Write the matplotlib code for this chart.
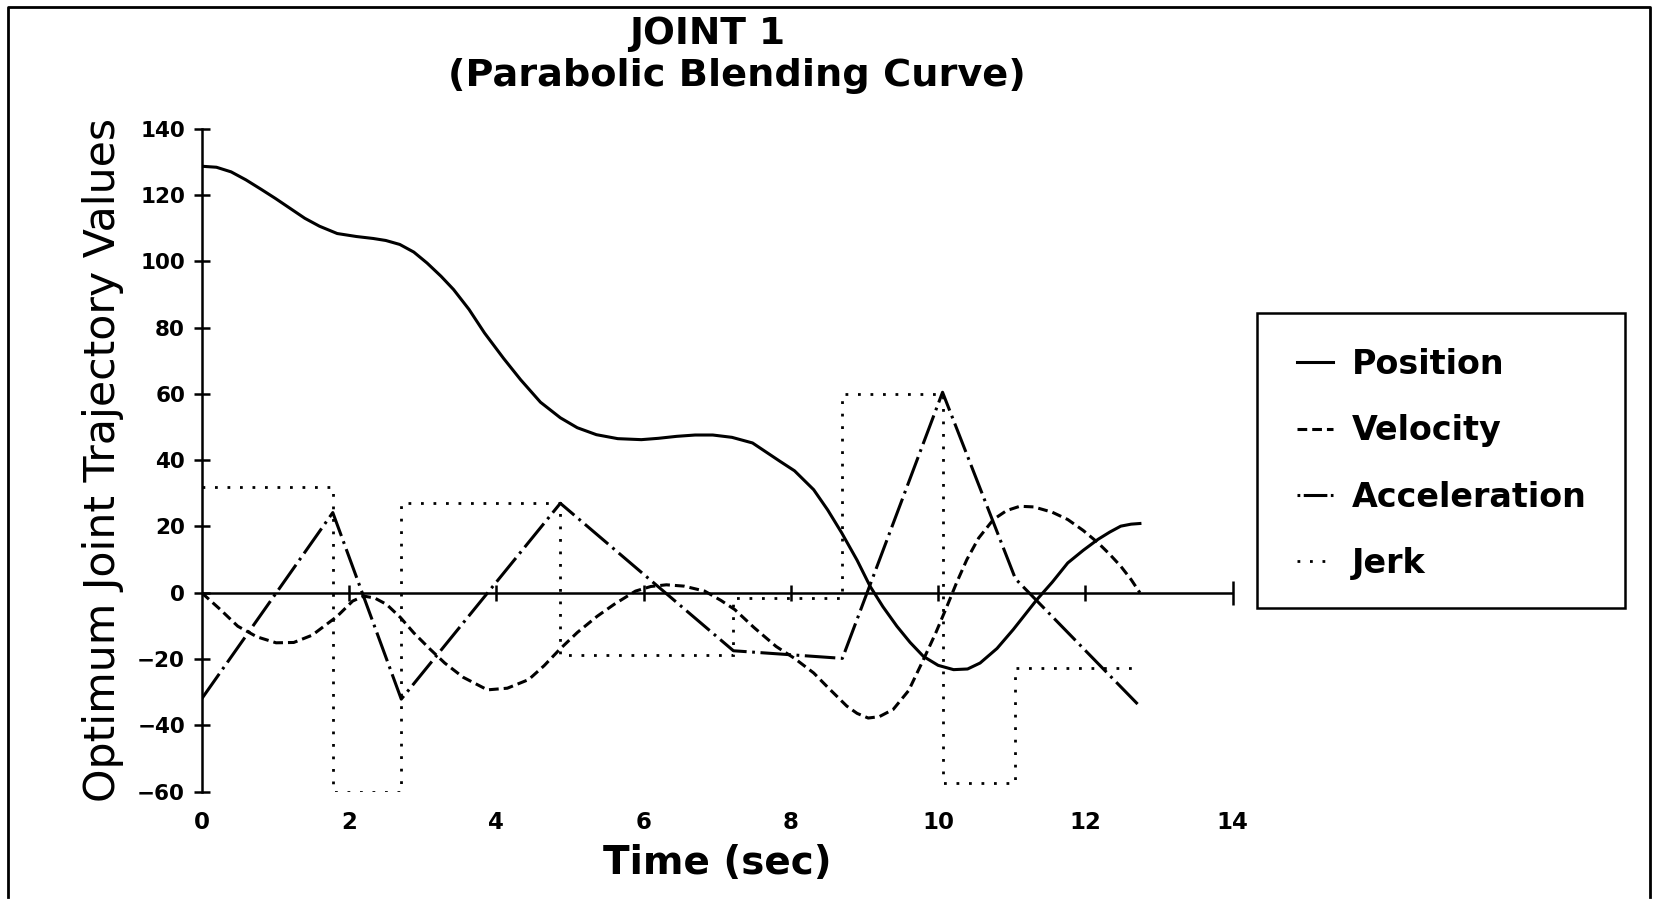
import matplotlib.pyplot as plt
from matplotlib.lines import Line2D
from matplotlib.patches import Rectangle

plt.rcParams['font.family'] = 'DejaVu Sans'
plt.rcParams['lines.scale_dashes'] = False

# values
time_pos = [0, 0.2, 0.4, 0.6, 0.81, 1.0, 1.2, 1.4, 1.6, 1.84, 2.1, 2.33, 2.5,
            2.69, 2.88, 3.06, 3.25, 3.42, 3.63, 3.84, 4.1, 4.33, 4.6, 4.87,
            5.1, 5.36, 5.65, 5.97, 6.2, 6.45, 6.7, 6.94, 7.2, 7.48, 7.85, 8.05,
            8.31, 8.5, 8.69, 8.9, 9.075, 9.25, 9.44, 9.62, 9.8, 10.0, 10.21,
            10.4, 10.57, 10.8, 11.02, 11.34, 11.55, 11.76, 11.97, 12.17, 12.33,
            12.48, 12.62, 12.74]
position = [128.7, 128.4, 127.0, 124.6, 121.7, 119.0, 116.0, 113.0, 110.6,
            108.4, 107.5, 106.9, 106.3, 105.1, 102.8, 99.5, 95.5, 91.5, 85.5,
            78.4, 70.7, 64.3, 57.5, 52.8, 49.8, 47.7, 46.5, 46.2, 46.6, 47.2,
            47.6, 47.6, 46.9, 45.2, 39.7, 36.8, 31.1, 25.0, 18.1, 9.8, 2.0,
            -4.2, -10.1, -15.0, -19.2, -21.9, -23.2, -23.0, -21.2, -16.8,
            -11.1, -2.1, 3.2, 9.0, 12.8, 16.1, 18.3, 20.1, 20.7, 20.9]

time_vel = [0, 0.25, 0.49, 0.75, 1.01, 1.25, 1.5, 1.84, 2.05, 2.2, 2.35, 2.51,
            2.7, 2.88, 3.1, 3.3, 3.55, 3.88, 4.15, 4.44, 4.65, 4.86, 5.1, 5.37,
            5.6, 5.89, 6.1, 6.31, 6.55, 6.83, 7.05, 7.24, 7.5, 7.8, 8.05, 8.31,
            8.5, 8.76, 8.9, 9.05, 9.2, 9.39, 9.6, 9.8, 9.97, 10.12, 10.25,
            10.39, 10.55, 10.75, 10.93, 11.11, 11.3, 11.55, 11.76, 11.97,
            12.17, 12.33, 12.48, 12.62, 12.74]
velocity = [0, -5.0, -10.1, -13.3, -15.1, -15.0, -12.8, -7.1, -2.5, -1.0,
            -1.6, -3.5, -7.5, -12.1, -17.0, -21.2, -25.5, -29.3, -28.8, -26.2,
            -22.0, -17.1, -12.0, -7.1, -3.5, 0.5, 1.9, 2.4, 2.0, 0.5, -2.3,
            -5.1, -10.5, -16.2, -19.8, -24.2, -28.5, -34.2, -36.4, -37.8,
            -37.4, -35.2, -29.5, -20.2, -12.0, -4.1, 3.0, 10.0, 16.5, 22.1,
            24.8, 26.1, 25.9, 24.3, 22.1, 18.8, 15.1, 11.6, 8.0, 4.0, 0]

time_acc = [0, 1.78, 2.71, 4.87, 7.22, 8.7, 10.06, 11.05, 12.74]
acceleration = [-32.0, 24.2, -32.1, 27.0, -17.5, -19.8, 60.5, 4.2, -34.3]

jerk_edges = [0, 1.78, 2.71, 4.87, 7.22, 8.7, 10.06, 11.05, 12.74]
jerk = [31.8, -60.0, 27.0, -18.8, -1.6, 60.0, -57.3, -22.7]

x_ticks = [0, 2, 4, 6, 8, 10, 12, 14]
y_ticks = [-60, -40, -20, 0, 20, 40, 60, 80, 100, 120, 140]

W, H = 1655, 899
fig = plt.figure(figsize=(W / 100, H / 100), dpi=100)
ax = fig.add_axes([201.7 / W, 1 - 791.6 / H, 1031 / W, 662.8 / H])

# curves
p_line, = ax.plot(time_pos, position, color='black', lw=2.2, label='Position')
v_line, = ax.plot(time_vel, velocity, color='black', lw=2.2,
                  ls=(0, (7, 3.6)), label='Velocity')
ax.plot(time_acc, acceleration, color='black', lw=2.2, ls=(0, (22, 4, 2, 4)))
jerk_style = (0, (2, 7))
ax.stairs(jerk, jerk_edges, baseline=None, color='black', lw=2.0, ls=jerk_style)

# legend proxies (acceleration sample drawn dot-dash-dot like the original)
a_line = Line2D([], [], color='black', lw=2.2, ls=(0, (2, 2.5, 17, 2.5, 2, 10)),
                label='Acceleration')
j_line = Line2D([], [], color='black', lw=2.0, ls=jerk_style, label='Jerk')

# zero line with its own tick marks
ax.axhline(0, color='black', lw=1.8)
ax.plot(x_ticks[1:-1], [0] * len(x_ticks[1:-1]), ls='none', marker='|',
        ms=11.5, mew=1.8, color='black')
ax.plot(x_ticks[-1:], [0], ls='none', marker='|', ms=17, mew=1.8,
        color='black', clip_on=False)

# axes
ax.set_xlim(0, 14)
ax.set_ylim(-60, 140)
ax.set_xticks(x_ticks)
ax.set_yticks(y_ticks)
for side in ['top', 'right', 'bottom']:
    ax.spines[side].set_visible(False)
ax.spines['left'].set_linewidth(1.8)
ax.tick_params(axis='y', direction='inout', length=12, width=1.8, pad=6,
               labelsize=15.5)
ax.tick_params(axis='x', length=0, pad=14, labelsize=16.5)
for lab in ax.get_xticklabels() + ax.get_yticklabels():
    lab.set_fontweight('bold')

ax.set_ylabel('Optimum Joint Trajectory Values', fontsize=30.7, va='baseline')
ax.yaxis.set_label_coords(-0.0845, 0.5)
ax.set_xlabel('Time (sec)', fontsize=28, fontweight='bold', va='baseline')
ax.xaxis.set_label_coords(0.5, -0.125)

# title
fig.text(707 / W, 1 - 44 / H, 'JOINT 1', ha='center', va='baseline',
         fontsize=27, fontweight='bold')
fig.text(737 / W, 1 - 86 / H, '(Parabolic Blending Curve)', ha='center',
         va='baseline', fontsize=27.5, fontweight='bold')

# legend (frame drawn separately)
leg = ax.legend(handles=[p_line, v_line, a_line, j_line], loc='upper left',
                bbox_to_anchor=(1297 / W, 1 - 348 / H),
                bbox_transform=fig.transFigure, frameon=False,
                borderaxespad=0, borderpad=0, labelspacing=1.0,
                handlelength=1.08, handletextpad=0.57,
                prop={'weight': 'bold', 'size': 24})
fig.add_artist(Rectangle((1257 / W, 1 - 608 / H), 368 / W, 295 / H,
                         transform=fig.transFigure, fill=False,
                         edgecolor='black', lw=1.8))

# page frame
fig.add_artist(Line2D([8 / W, 8 / W, 1650 / W, 1650 / W],
                      [1 - 897 / H, 1 - 7 / H, 1 - 7 / H, 1 - 897 / H],
                      transform=fig.transFigure, color='black', lw=2))

fig.savefig('out.png', dpi=100)
